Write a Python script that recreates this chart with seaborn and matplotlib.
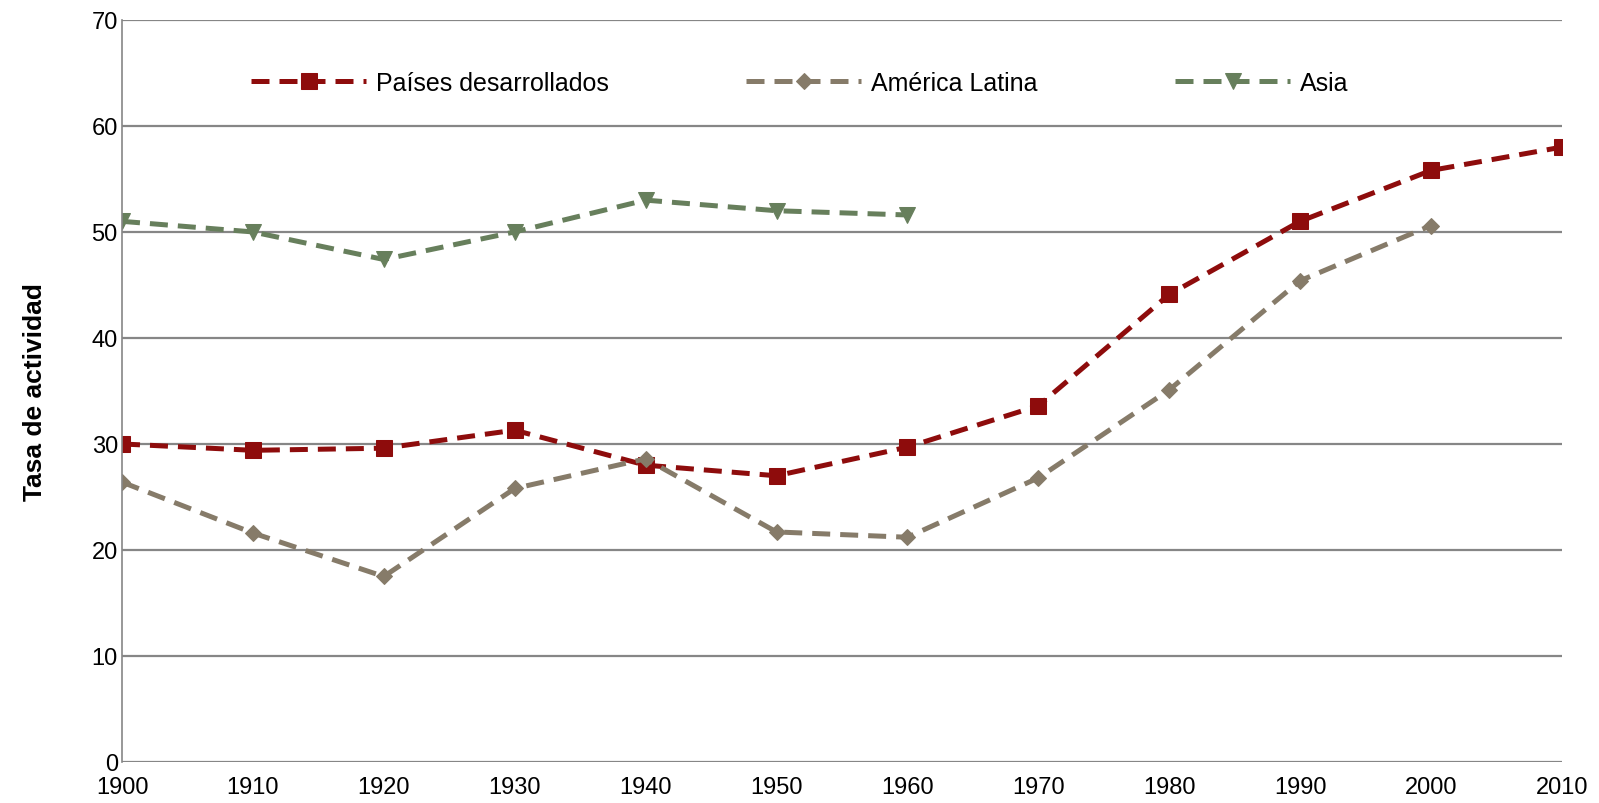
import matplotlib
matplotlib.use("Agg")
import matplotlib.pyplot as plt
import seaborn as sns
import pandas as pd

years_dev = [1900, 1910, 1920, 1930, 1940, 1950, 1960, 1970, 1980, 1990, 2000, 2010]
paises_desarrollados = [30.0, 29.4, 29.6, 31.3, 28.0, 27.0, 29.7, 33.6, 44.1, 51.0, 55.8, 58.0]
years_la = [1900, 1910, 1920, 1930, 1940, 1950, 1960, 1970, 1980, 1990, 2000]
america_latina = [26.4, 21.6, 17.5, 25.8, 28.6, 21.7, 21.2, 26.8, 35.1, 45.4, 50.6]
years_asia = [1900, 1910, 1920, 1930, 1940, 1950, 1960]
asia = [51.0, 50.0, 47.4, 50.0, 53.0, 52.0, 51.6]
x_ticks = list(range(1900, 2011, 10))
y_ticks = list(range(0, 71, 10))

sns.set_theme(style="white")
plt.rcParams["font.family"] = ["Liberation Sans", "DejaVu Sans"]

fig = plt.figure(figsize=(15.99, 8.04), dpi=100)
ax = fig.add_axes([0.0763, 0.051, 0.9005, 0.923])

series = [
    ("Países desarrollados", years_dev, paises_desarrollados, "#8E0C0C", "s", 11),
    ("América Latina", years_la, america_latina, "#867B69", "D", 8),
    ("Asia", years_asia, asia, "#677F5C", "v", 11),
]
for label, xs, ys, col, mk, ms in series:
    df = pd.DataFrame({"x": xs, "y": ys})
    sns.lineplot(data=df, x="x", y="y", ax=ax, color=col, marker=mk, markersize=ms,
                 markeredgecolor=col, lw=3.6, linestyle=(0, (3.6, 2.0)), label=label)

ax.set_xlim(1900, 2010)
ax.set_ylim(0, 70)
ax.set_xticks(x_ticks)
ax.set_yticks(y_ticks)
ax.tick_params(axis="both", labelsize=17, length=0, colors="black")
ax.tick_params(axis="x", pad=10)
ax.tick_params(axis="y", pad=3)
ax.yaxis.grid(True, color="#868686", lw=1.6)
ax.xaxis.grid(False)
ax.set_axisbelow(True)
for s in ["top", "right", "bottom"]:
    ax.spines[s].set_visible(False)
ax.spines["left"].set_color("#868686")
ax.spines["left"].set_linewidth(1.2)
ax.set_xlabel("")
ax.set_ylabel("Tasa de actividad", fontsize=19, fontweight="bold", labelpad=32, color="black")

leg = ax.legend(loc="upper left", bbox_to_anchor=(0.074, 0.962), ncol=3, frameon=False,
                fontsize=18, handlelength=4.6, columnspacing=5.5, handletextpad=0.4)
for t in leg.get_texts():
    t.set_color("black")

fig.savefig("out.png", dpi=100)
